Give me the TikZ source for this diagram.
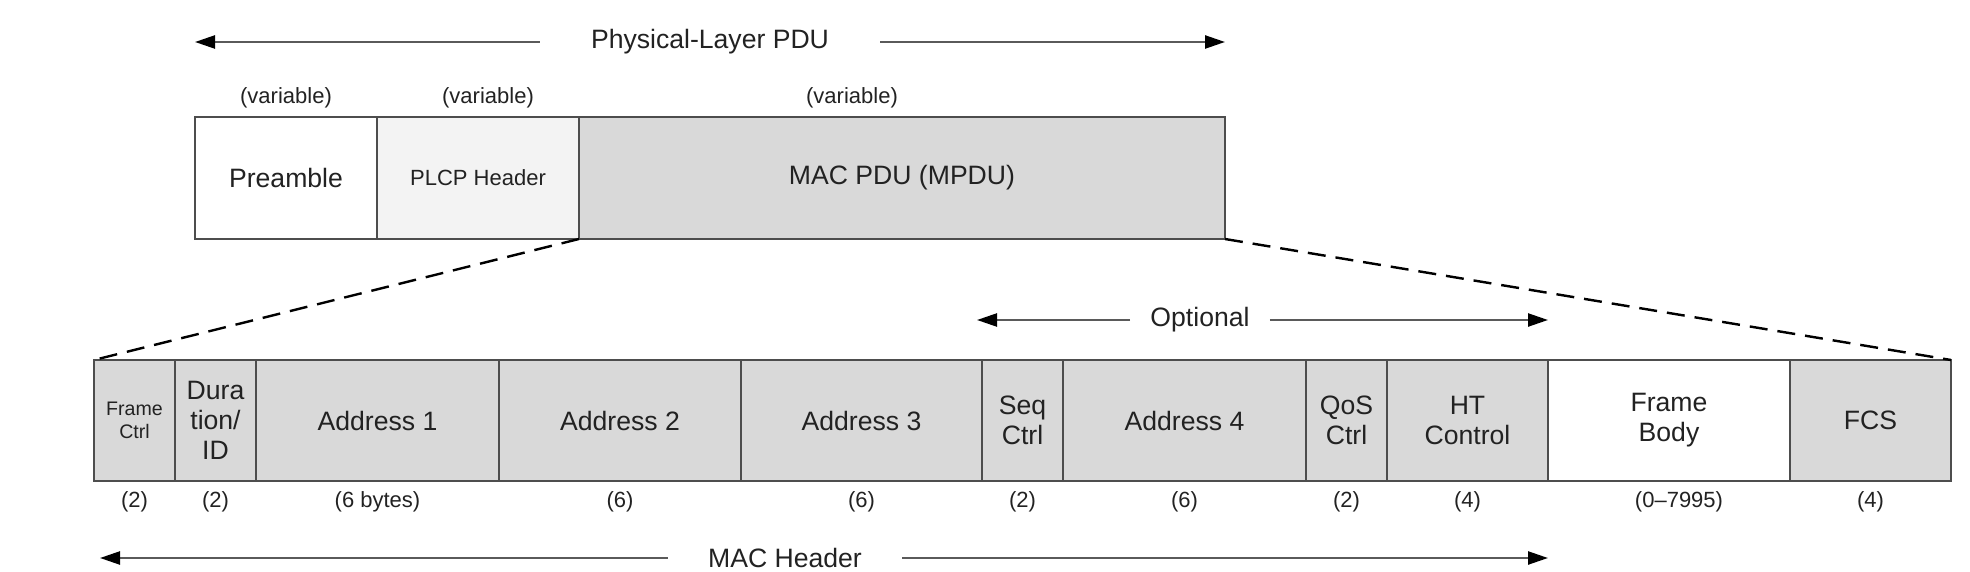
\documentclass[tikz,border=0pt]{standalone}
\usepackage{fontspec}
\setmainfont{Liberation Sans}
\usetikzlibrary{arrows.meta,positioning}
\definecolor{fieldgray}{HTML}{D9D9D9}
\definecolor{plcpgray}{HTML}{F3F3F3}
\definecolor{edge}{HTML}{4D4D4D}
\definecolor{ink}{HTML}{222222}
\definecolor{shaft}{HTML}{5A5A5A}
\tikzset{
  fieldbox/.style={
    rectangle, draw=edge, fill=#1, line width=0.9pt,
    minimum height=60.5pt, inner sep=0pt, outer sep=0pt,
    font=\fontsize{13.3}{15}\selectfont, text=ink, align=center
  },
  fieldbox/.default=fieldgray,
  smallfield/.style={font=\fontsize{11}{13}\selectfont},
  tinyfield/.style={font=\fontsize{9.8}{11.5}\selectfont},
  sizelabel/.style={
    font=\fontsize{11}{13}\selectfont, text=ink, inner sep=0pt
  },
  spanlabel/.style={
    font=\fontsize{13.3}{15}\selectfont, text=ink,
    inner ysep=2pt, inner xsep=#1
  },
  spanlabel/.default=20pt,
  spanarrow/.style={
    -{Triangle[length=10pt, width=6.5pt, color=black]},
    line width=1.2pt, color=shaft
  },
  zoomline/.style={
    line width=1.2pt, color=black, dash pattern=on 9pt off 5pt
  },
}

\begin{document}
\begin{tikzpicture}[x=0.5pt, y=-0.5pt]
  \useasboundingbox (0,0) rectangle (1970,572);
  % physical-layer PDU
  \node[fieldbox=white, minimum width=91pt, minimum height=61pt, anchor=north west] (pre) at (195,117) {Preamble};
  \node[fieldbox=plcpgray, smallfield, minimum width=101pt, minimum height=61pt, right=0pt of pre] (plcp) {PLCP Header};
  \node[fieldbox, minimum width=323pt, minimum height=61pt, right=0pt of plcp] (mpdu) {MAC PDU (MPDU)};
  \node[sizelabel] at ([yshift=9.5pt]pre.north) (varpre) {(variable)};
  \node[sizelabel] at ([yshift=9.5pt, xshift=5pt]plcp.north) (varplcp) {(variable)};
  \node[sizelabel] at ([yshift=9.5pt, xshift=-25pt]mpdu.north) (varmpdu) {(variable)};
  \node[spanlabel=25.5pt] at (710,42) (phy) {Physical-Layer PDU};
  \coordinate (phyL) at (pre.west |- phy);
  \coordinate (phyR) at (mpdu.east |- phy);
  \draw[spanarrow] (phy) -- (phyL);
  \draw[spanarrow] (phy) -- (phyR);
  % MAC frame
  \node[fieldbox, tinyfield, minimum width=40.5pt, anchor=north west] (fc) at (94,360) {Frame\\Ctrl};
  \node[fieldbox, minimum width=40.5pt, right=0pt of fc] (dur) {Dura\\tion/\\ID};
  \node[fieldbox, minimum width=121.5pt, right=0pt of dur] (a1) {Address 1};
  \node[fieldbox, minimum width=121pt, right=0pt of a1] (a2) {Address 2};
  \node[fieldbox, minimum width=120.5pt, right=0pt of a2] (a3) {Address 3};
  \node[fieldbox, minimum width=40.5pt, right=0pt of a3] (seq) {Seq\\Ctrl};
  \node[fieldbox, minimum width=121.5pt, right=0pt of seq] (a4) {Address 4};
  \node[fieldbox, minimum width=40.5pt, right=0pt of a4] (qos) {QoS\\Ctrl};
  \node[fieldbox, minimum width=80.5pt, right=0pt of qos] (ht) {HT\\Control};
  \node[fieldbox=white, minimum width=121pt, right=0pt of ht] (body) {Frame\\Body};
  \node[fieldbox, minimum width=80.5pt, right=0pt of body] (fcs) {FCS};
  \foreach \f/\n in {fc/(2), dur/(2), a1/(6 bytes), a2/(6), a3/(6), seq/(2), a4/(6), qos/(2), ht/(4), fcs/(4)}
    { \node[sizelabel] at ([yshift=-10.5pt]\f.south) {\n}; }
  \node[sizelabel] at ([yshift=-10.5pt, xshift=5pt]body.south) (bodysize) {(0--7995)};
  % zoom from MPDU to MAC frame
  \draw[zoomline] (mpdu.south west) -- (fc.north west);
  \draw[zoomline] (mpdu.south east) -- (fcs.north east);
  % optional and header spans
  \node[spanlabel=10pt] at (1200,320) (opt) {Optional};
  \coordinate (optL) at ([xshift=-2.5pt]seq.west |- opt);
  \coordinate (optR) at (ht.east |- opt);
  \draw[spanarrow] (opt) -- (optL);
  \draw[spanarrow] (opt) -- (optR);
  \node[spanlabel=20pt] at (785,558) (machdr) {MAC Header};
  \coordinate (hdrL) at ([xshift=3pt]fc.west |- machdr);
  \coordinate (hdrR) at (ht.east |- machdr);
  \draw[spanarrow] (machdr) -- (hdrL);
  \draw[spanarrow] (machdr) -- (hdrR);
\end{tikzpicture}
\end{document}
